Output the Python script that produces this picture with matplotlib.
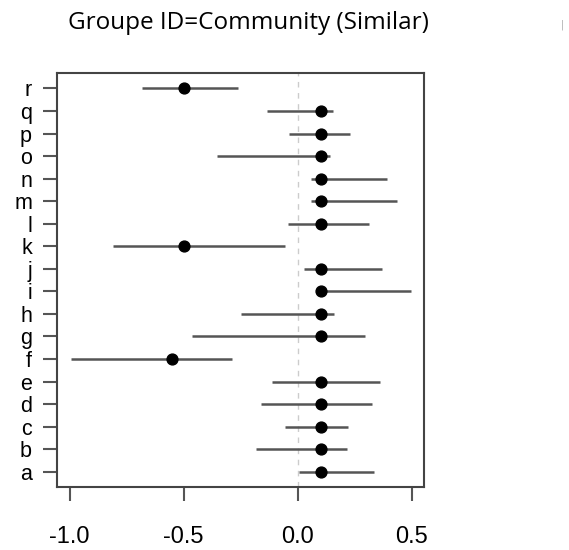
import matplotlib
matplotlib.use('Agg')
import matplotlib.pyplot as plt

labels = list("abcdefghijklmnopqr")
est = [0.1, 0.1, 0.1, 0.1, 0.1, -0.55, 0.1, 0.1, 0.1, 0.1,
       -0.5, 0.1, 0.1, 0.1, 0.1, 0.1, 0.1, -0.5]
lower = [0.005, -0.185, -0.057, -0.162, -0.115, -0.995, -0.462, -0.248, 0.105, 0.029,
         -0.81, -0.044, 0.058, 0.058, -0.353, -0.038, -0.133, -0.684]
upper = [0.334, 0.216, 0.22, 0.325, 0.359, -0.287, 0.296, 0.158, 0.495, 0.368,
         -0.054, 0.311, 0.436, 0.392, 0.14, 0.228, 0.155, -0.26]
xticks = [-1.0, -0.5, 0.0, 0.5]

fig = plt.figure(figsize=(5.69, 5.5), dpi=100)
ax = fig.add_axes([0.1002, 0.1145, 0.645, 0.7525])

ypos = list(range(1, len(labels) + 1))
ax.axvline(0, color='#cccccc', lw=1, linestyle=(0, (4, 4)), zorder=1)
ax.hlines(ypos, lower, upper, color='#555555', lw=1.8, zorder=2)
ax.plot(est, ypos, 'o', color='black', markersize=7.8, zorder=3)

ax.set_xlim(-1.055, 0.553)
ax.set_ylim(0.32, 18.68)
ax.set_yticks(ypos)
ax.set_yticklabels(labels, fontsize=15.5, family='Liberation Sans')
ax.set_xticks(xticks)
ax.set_xticklabels([f"{v:.1f}" for v in xticks], fontsize=17, family='Liberation Sans')
ax.tick_params(axis='y', length=10, width=1.5, color='#555555', pad=8)
ax.tick_params(axis='x', length=10, width=1.5, color='#555555', pad=18)
for s in ax.spines.values():
    s.set_color('#444444')
    s.set_linewidth(1.5)

fig.text(0.437, 0.958, "Groupe ID=Community (Similar)", ha='center', va='center',
         fontsize=17.5, family='Open Sans')
fig.text(0.988, 0.955, "|", ha='center', va='center', fontsize=7, color='#aaaaaa')

fig.savefig('out.png', dpi=100)
plt.close(fig)
